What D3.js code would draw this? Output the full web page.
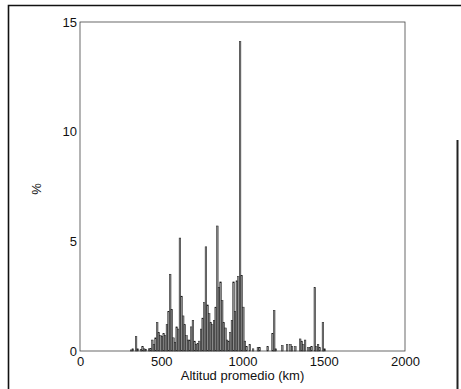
<!DOCTYPE html>
<html>
<head>
<meta charset="utf-8">
<script src="https://cdn.jsdelivr.net/npm/d3@7"></script>
<style>
  body { margin: 0; background: #fff; }
  text { font-family: Arial, "Liberation Sans", sans-serif; fill: #111; }
</style>
</head>
<body>
<div id="chart"></div>
<script>
// bin start (km) for every non-empty 10 km bin
const altitudes = [310, 320, 340, 350, 370, 380, 390, 400, 420, 430,
  440, 450, 460, 470, 480, 490, 500, 510, 520, 530,
  540, 550, 560, 570, 580, 590, 600, 610, 620, 630,
  640, 650, 660, 670, 680, 690, 700, 710, 720, 730,
  740, 750, 760, 770, 780, 790, 800, 810, 820, 830,
  840, 850, 860, 870, 880, 890, 900, 910, 920, 930,
  940, 950, 960, 970, 980, 990, 1000, 1010, 1020, 1040,
  1060, 1090, 1100, 1150, 1180, 1190, 1200, 1240, 1270, 1290,
  1300, 1320, 1350, 1360, 1370, 1380, 1400, 1410, 1420, 1440,
  1450, 1460, 1470, 1490, 1500];
// percentage of objects in each bin
const percents = [0.05, 0.1, 0.65, 0.1, 0.08, 0.2, 0.1, 0.08, 0.1, 0.12,
  0.5, 0.3, 0.6, 1.3, 0.85, 0.7, 0.65, 0.8, 0.7, 1.2,
  1.8, 3.5, 1.9, 0.6, 0.4, 1.1, 1.0, 5.15, 2.5, 1.6,
  1.2, 0.7, 0.5, 0.5, 1.1, 1.4, 0.45, 0.3, 0.35, 0.45,
  1.0, 1.5, 2.2, 4.75, 2.1, 1.7, 1.3, 1.2, 1.4, 2.0,
  5.7, 2.9, 3.15, 2.3, 1.3, 1.05, 0.5, 0.45, 0.85, 1.4,
  3.15, 1.8, 3.2, 3.4, 14.1, 3.45, 2.0, 0.45, 0.2, 0.3,
  0.1, 0.15, 0.15, 0.2, 0.8, 1.85, 0.1, 0.25, 0.3, 0.3,
  0.2, 0.2, 0.55, 0.45, 0.3, 0.5, 0.15, 0.15, 0.2, 2.9,
  0.2, 0.3, 0.15, 1.3, 0.1];
const binWidth = 10;
const xTicks = [0, 500, 1000, 1500, 2000];
const yTicks = [0, 5, 10, 15];

const W = 461, H = 389;
const margin = { top: 22, right: 56, bottom: 38, left: 80 };
const width = W - margin.left - margin.right;
const height = H - margin.top - margin.bottom;

const svg = d3.select("#chart").append("svg")
  .attr("width", W)
  .attr("height", H);

// scanned page frame
svg.append("path")
  .attr("d", "M8.5,389 V5.5 H461")
  .attr("fill", "none").attr("stroke", "#111").attr("stroke-width", 1.6);
svg.append("line")
  .attr("x1", 457.5).attr("x2", 457.5).attr("y1", 140).attr("y2", 389)
  .attr("stroke", "#222").attr("stroke-width", 2);

const g = svg.append("g")
  .attr("transform", "translate(" + margin.left + "," + margin.top + ")");

const x = d3.scaleLinear().domain([0, 2000]).range([0, width]);
const y = d3.scaleLinear().domain([0, 15]).range([height, 0]);

// bars
g.append("g").selectAll("rect")
  .data(altitudes.map((a, i) => ({ a: a, v: percents[i] })))
  .enter().append("rect")
    .attr("x", d => x(d.a))
    .attr("width", x(binWidth) - x(0))
    .attr("y", d => y(d.v))
    .attr("height", d => height - y(d.v))
    .attr("fill", "#8a8a8a")
    .attr("stroke", "#1a1a1a")
    .attr("stroke-width", 0.5);

// axes box
g.append("rect")
  .attr("width", width).attr("height", height)
  .attr("fill", "none")
  .attr("stroke", "#444").attr("stroke-width", 0.8);

const xAxis = g.append("g")
  .attr("transform", "translate(0," + height + ")")
  .call(d3.axisBottom(x).tickValues(xTicks).tickFormat(d3.format("d")).tickSize(0).tickPadding(6));
const yAxis = g.append("g")
  .call(d3.axisLeft(y).tickValues(yTicks).tickFormat(d3.format("d")).tickSize(0).tickPadding(3));
[xAxis, yAxis].forEach(a => {
  a.select(".domain").remove();
  a.selectAll("text").style("font-size", "13px").attr("fill", "#111");
});

g.append("text")
  .attr("x", width / 2)
  .attr("y", height + 29)
  .attr("text-anchor", "middle")
  .style("font-size", "13px")
  .text("Altitud promedio (km)");

g.append("text")
  .attr("transform", "rotate(-90)")
  .attr("x", -167)
  .attr("y", -39)
  .attr("text-anchor", "middle")
  .style("font-size", "13px")
  .text("%");
</script>
</body>
</html>
